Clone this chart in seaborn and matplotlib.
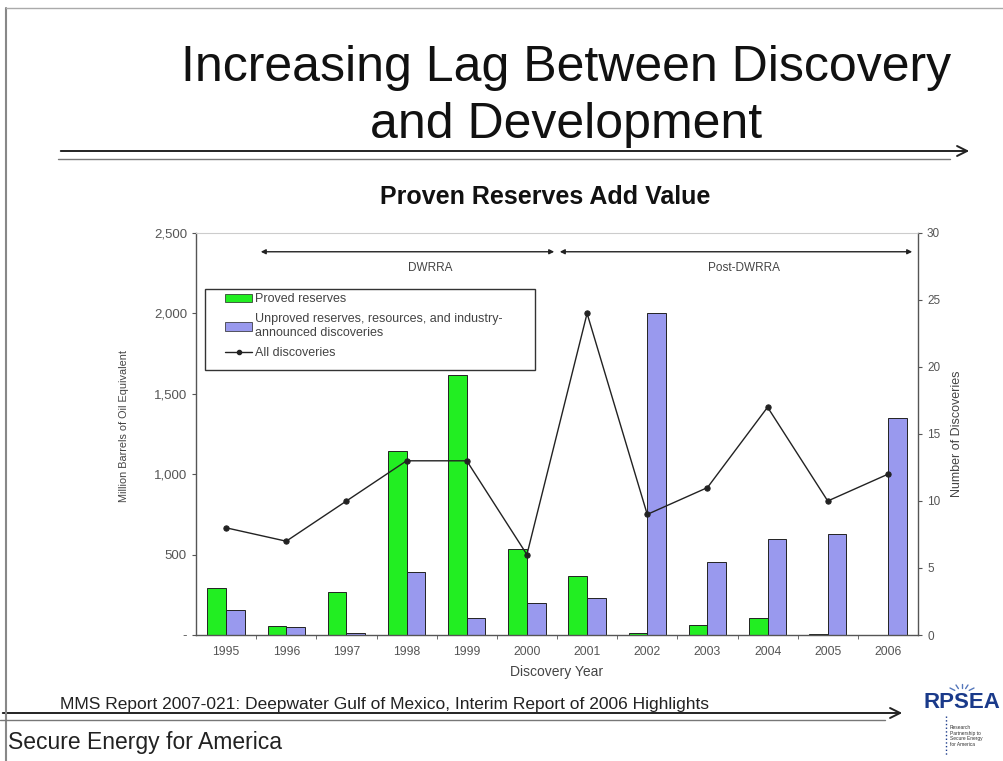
import matplotlib
matplotlib.use("Agg")
import matplotlib.pyplot as plt
import seaborn as sns
import pandas as pd
from matplotlib.patches import FancyArrowPatch, Patch, Rectangle
from matplotlib.lines import Line2D
from matplotlib.ticker import FuncFormatter, FixedLocator

years = ["1995", "1996", "1997", "1998", "1999", "2000",
         "2001", "2002", "2003", "2004", "2005", "2006"]
proved = [290, 58, 267, 1146, 1617, 535, 367, 10, 62, 108, 5, 0]
unproved = [155, 50, 10, 394, 105, 201, 230, 2000, 452, 595, 626, 1347]
discoveries = [8, 7, 10, 13, 13, 6, 24, 9, 11, 17, 10, 12]

label_proved = "Proved reserves"
label_unproved = "Unproved reserves, resources, and industry-\nannounced discoveries"
label_all = "All discoveries"

green = "#22ee22"
blue = "#9999ee"

sns.set_style("white")
plt.rcParams["font.family"] = ["Liberation Sans", "DejaVu Sans"]

W, H = 1004, 761


def fx(x):
    return x / W


def fy(y):
    return 1 - y / H


fig = plt.figure(figsize=(W / 100, H / 100), dpi=100)

# slide decoration
fig.add_artist(Line2D([fx(6), fx(6)], [0, fy(8)], color="#888888", lw=1.5))
fig.add_artist(Line2D([fx(6), 1], [fy(8), fy(8)], color="#aaaaaa", lw=1))
fig.add_artist(FancyArrowPatch((fx(58), fy(151)), (fx(972), fy(151)), arrowstyle="->",
                               mutation_scale=18, lw=1.4, color="#222222", transform=fig.transFigure))
fig.add_artist(Line2D([fx(58), fx(950)], [fy(159), fy(159)], color="#777777", lw=1))
fig.add_artist(FancyArrowPatch((fx(0), fy(713)), (fx(905), fy(713)), arrowstyle="->",
                               mutation_scale=18, lw=1.4, color="#222222", transform=fig.transFigure))
fig.add_artist(Line2D([fx(0), fx(885)], [fy(720), fy(720)], color="#777777", lw=1))

fig.text(fx(566), fy(68), "Increasing Lag Between Discovery", ha="center", va="center",
         fontsize=36, color="#111111")
fig.text(fx(566), fy(125), "and Development", ha="center", va="center",
         fontsize=36, color="#111111")
fig.text(fx(545), fy(197), "Proven Reserves Add Value", ha="center", va="center",
         fontsize=18, fontweight="bold", color="#111111")
fig.text(fx(60), fy(704), "MMS Report 2007-021: Deepwater Gulf of Mexico, Interim Report of 2006 Highlights",
         ha="left", va="center", fontsize=12.5, color="#222222")
fig.text(fx(8), fy(742), "Secure Energy for America", ha="left", va="center",
         fontsize=16.5, color="#222222")

# logo
for dx, dy in [(-12, -6), (-6, -9), (0, -10), (6, -9), (12, -6)]:
    fig.add_artist(Line2D([fx(962 + dx * 0.6), fx(962 + dx)], [fy(694 + dy * 0.6), fy(694 + dy)],
                          color="#5577bb", lw=1))
fig.text(fx(962), fy(703), "RPSEA", ha="center", va="center", fontsize=16,
         fontweight="bold", color="#1a3a8a")
fig.text(fx(950), fy(736), "Research\nPartnership to\nSecure Energy\nfor America", ha="left",
         va="center", fontsize=3.5, color="#333333", linespacing=1.1)
fig.add_artist(Line2D([fx(946), fx(946)], [fy(716), fy(756)], color="#1a3a8a", lw=1, ls=":"))

# chart
ax = fig.add_axes([fx(196), fy(635), (918 - 196) / W, (635 - 233) / H])

df = pd.DataFrame({
    "year": years * 2,
    "value": proved + unproved,
    "type": [label_proved] * len(years) + [label_unproved] * len(years),
})
sns.barplot(data=df, x="year", y="value", hue="type", palette=[green, blue], saturation=1,
            edgecolor="#222222", linewidth=0.7, width=0.62, legend=False, ax=ax)
ax.set_ylim(0, 2500)
ax.set_xlim(-0.5, len(years) - 0.5)
ax.set_yticks([0, 500, 1000, 1500, 2000, 2500])
ax.yaxis.set_major_formatter(FuncFormatter(lambda v, p: "-" if v == 0 else f"{v:,.0f}"))
ax.set_xlabel("Discovery Year", fontsize=10, color="#444444", labelpad=5)
ax.set_ylabel("Million Barrels of Oil Equivalent", fontsize=7.8, color="#444444", labelpad=13)
ax.yaxis.set_label_coords(-0.093, 0.52)
ax.tick_params(axis="x", length=0, labelsize=8.8, colors="#555555", pad=8)
ax.tick_params(axis="y", length=3, labelsize=9.5, colors="#555555", left=True)
ax.xaxis.set_minor_locator(FixedLocator([i + 0.5 for i in range(len(years) - 1)]))
ax.tick_params(axis="x", which="minor", length=3, bottom=True, color="#555555")
for s in ["left", "right", "bottom"]:
    ax.spines[s].set_color("#555555")
    ax.spines[s].set_linewidth(1)
ax.spines["top"].set_color("#cccccc")
ax.spines["top"].set_linewidth(0.8)

ax2 = ax.twinx()
sns.pointplot(x=years, y=discoveries, color="#222222", markers="o", markersize=3.8,
              linewidth=1, ax=ax2)
ax2.set_ylim(0, 30)
ax2.set_xlim(-0.5, len(years) - 0.5)
ax2.set_yticks([0, 5, 10, 15, 20, 25, 30])
ax2.set_ylabel("Number of Discoveries", fontsize=9, color="#444444", labelpad=8)
ax2.tick_params(axis="y", length=3, labelsize=8.5, colors="#555555", right=True)
for s in ["left", "right", "bottom", "top"]:
    ax2.spines[s].set_visible(False)

# period arrows
ax2.annotate("", xy=(0.53, 28.6), xytext=(5.5, 28.6),
             arrowprops=dict(arrowstyle="<|-|>", color="#222222", lw=1, mutation_scale=7))
ax2.annotate("", xy=(5.5, 28.6), xytext=(11.45, 28.6),
             arrowprops=dict(arrowstyle="<|-|>", color="#222222", lw=1, mutation_scale=7))
ax2.text(3.39, 27.4, "DWRRA", ha="center", va="center", fontsize=8.5, color="#444444")
ax2.text(8.6, 27.4, "Post-DWRRA", ha="center", va="center", fontsize=8.5, color="#444444")

# legend box drawn separately to get the uneven padding of the original
ax2.add_patch(Rectangle((0.0125, 0.659), 0.457, 0.202, transform=ax2.transAxes,
                        facecolor="white", edgecolor="#333333", lw=1, zorder=4))
handles = [Patch(facecolor=green, edgecolor="#222222", linewidth=0.5),
           Patch(facecolor=blue, edgecolor="#222222", linewidth=0.5),
           Line2D([], [], color="#222222", marker="o", markersize=3, lw=1)]
leg = ax2.legend(handles, [label_proved, label_unproved, label_all],
                 loc="upper left", bbox_to_anchor=(0.04, 0.85), fontsize=9,
                 frameon=False, borderpad=0, handlelength=2.2, handleheight=0.7,
                 handletextpad=0.2, labelspacing=0.65, borderaxespad=0)
leg.set_zorder(5)
for t in leg.get_texts():
    t.set_color("#444444")

fig.savefig("out.png", dpi=100)
